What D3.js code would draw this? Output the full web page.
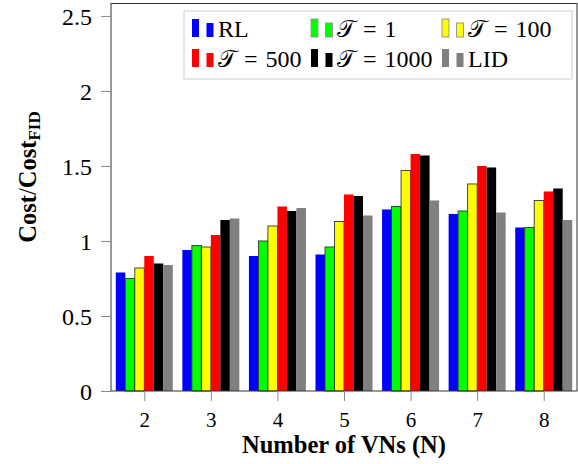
<!DOCTYPE html>
<html lang="en">
<head>
<meta charset="utf-8">
<title>Cost ratio bar chart</title>
<style>
    body { margin: 0; background: white; }
    svg { display: block; }
    text { font-family: "Liberation Serif", "DejaVu Serif", serif; fill: black; }
    .x-label { font-size: 21px; }
    .y-label { font-size: 24px; }
    .axis-title { font-size: 24.5px; font-weight: bold; }
    .legend text { font-size: 24px; }
    .legend .cal { font-family: "DejaVu Serif", "DejaVu Sans", serif; }
</style>
</head>
<body>
<script src="https://cdnjs.cloudflare.com/ajax/libs/d3/7.8.5/d3.min.js"></script>
<script>
    // data
    var groups = [2, 3, 4, 5, 6, 7, 8];
    var seriesNames = ["RL", "T1", "T100", "T500", "T1000", "LID"];
    // legend: symbol part and the rest
    var legendSym = ["", "𝒯", "𝒯", "𝒯", "𝒯", ""];
    var legendText = ["RL", "\u2004=\u20041", "\u2004=\u2004100", "\u2004=\u2004500", "\u2004=\u20041000", "LID"];
    var colors = ["#0000ff", "#00ff00", "#ffff00", "#ff0000", "#000000", "#808080"];

    var rl    = [0.79, 0.94, 0.90, 0.91, 1.21, 1.18, 1.09];
    var t1    = [0.75, 0.97, 1.00, 0.96, 1.23, 1.20, 1.09];
    var t100  = [0.82, 0.96, 1.10, 1.13, 1.47, 1.38, 1.27];
    var t500  = [0.90, 1.04, 1.23, 1.31, 1.58, 1.50, 1.33];
    var t1000 = [0.85, 1.14, 1.20, 1.30, 1.57, 1.49, 1.35];
    var lid   = [0.84, 1.15, 1.22, 1.17, 1.27, 1.19, 1.14];

    var yTicks = [0, 0.5, 1, 1.5, 2, 2.5];

    var series = [rl, t1, t100, t500, t1000, lid];

    var width = 578, height = 464;
    var plot = { left: 111, right: 577, top: 3.5, bottom: 391 };

    var svg = d3.select("body").append("svg")
        .attr("width", width)
        .attr("height", height);

    var x = d3.scaleLinear().domain([1.5, 8.5]).range([plot.left, plot.right]);
    var y = d3.scaleLinear().domain([0, 2.583]).range([plot.bottom, plot.top]);

    var inner = d3.scaleBand().domain(seriesNames).range([-28.5, 28.5]).padding(0);

    // bars
    series.forEach(function(vals, i) {
        svg.append("g")
            .selectAll("rect")
            .data(vals)
            .enter()
            .append("rect")
            .attr("x", function(d, j) { return x(groups[j]) + inner(seriesNames[i]); })
            .attr("y", function(d) { return y(d); })
            .attr("width", inner.bandwidth())
            .attr("height", function(d) { return y(0) - y(d); })
            .attr("fill", colors[i])
            .attr("stroke", (i == 1 || i == 2) ? "#333" : "none")
            .attr("stroke-width", 0.9);
    });

    // frame
    svg.append("rect")
        .attr("x", plot.left).attr("y", plot.top)
        .attr("width", plot.right - plot.left)
        .attr("height", plot.bottom - plot.top)
        .attr("fill", "none")
        .attr("stroke", "#333")
        .attr("stroke-width", 1);

    // x axis
    var xAxis = d3.axisBottom(x).tickValues(groups).tickSize(10).tickFormat(d3.format("d"));
    var gx = svg.append("g")
        .attr("transform", "translate(0," + plot.bottom + ")")
        .call(xAxis);
    gx.attr("font-family", null).attr("font-size", null);
    gx.select(".domain").remove();
    gx.selectAll(".tick line").attr("stroke", "#888");
    gx.selectAll(".tick text")
        .attr("class", "x-label")
        .attr("y", 36)
        .attr("dy", 0);

    // y axis
    var yAxis = d3.axisLeft(y).tickValues(yTicks).tickSize(10).tickFormat(function(d) { return d; });
    var gy = svg.append("g")
        .attr("transform", "translate(" + plot.left + ",0)")
        .call(yAxis);
    gy.attr("font-family", null).attr("font-size", null);
    gy.select(".domain").remove();
    gy.selectAll(".tick line").attr("stroke", "#888");
    gy.selectAll(".tick text")
        .attr("class", "y-label")
        .attr("x", -19)
        .attr("dy", "0.35em");

    // axis titles
    svg.append("text")
        .attr("class", "axis-title")
        .attr("x", (plot.left + plot.right) / 2)
        .attr("y", 453)
        .attr("text-anchor", "middle")
        .text("Number of VNs (N)");

    var yt = svg.append("text")
        .attr("class", "axis-title")
        .attr("transform", "translate(36,177) rotate(-90)")
        .attr("text-anchor", "middle");
    yt.append("tspan").text("Cost");
    yt.append("tspan").attr("font-weight", "normal").text("/");
    yt.append("tspan").text("Cost");
    yt.append("tspan").attr("font-size", "17px").attr("dy", 4).text("FID");

    // legend
    var legend = svg.append("g").attr("class", "legend");
    legend.append("rect")
        .attr("x", 184).attr("y", 11)
        .attr("width", 388).attr("height", 68)
        .attr("fill", "white")
        .attr("stroke", "#ccc");

    var colX = [192, 311, 442];
    var rowY = [37, 67];
    legendText.forEach(function(lab, i) {
        var cx = colX[i % 3], by = rowY[Math.floor(i / 3)];
        var g = legend.append("g").attr("transform", "translate(" + cx + "," + by + ")");
        var st = (i == 1 || i == 2) ? "#999" : "none";
        g.append("rect").attr("x", 0).attr("y", -18).attr("width", 7).attr("height", 18)
            .attr("fill", colors[i]).attr("stroke", st);
        g.append("rect").attr("x", 14.5).attr("y", -14).attr("width", 7).attr("height", 14)
            .attr("fill", colors[i]).attr("stroke", st);
        var t = g.append("text").attr("x", 26).attr("y", 0);
        if (legendSym[i]) t.append("tspan").attr("class", "cal").text(legendSym[i]);
        t.append("tspan").text(lab);
    });
</script>
</body>
</html>
